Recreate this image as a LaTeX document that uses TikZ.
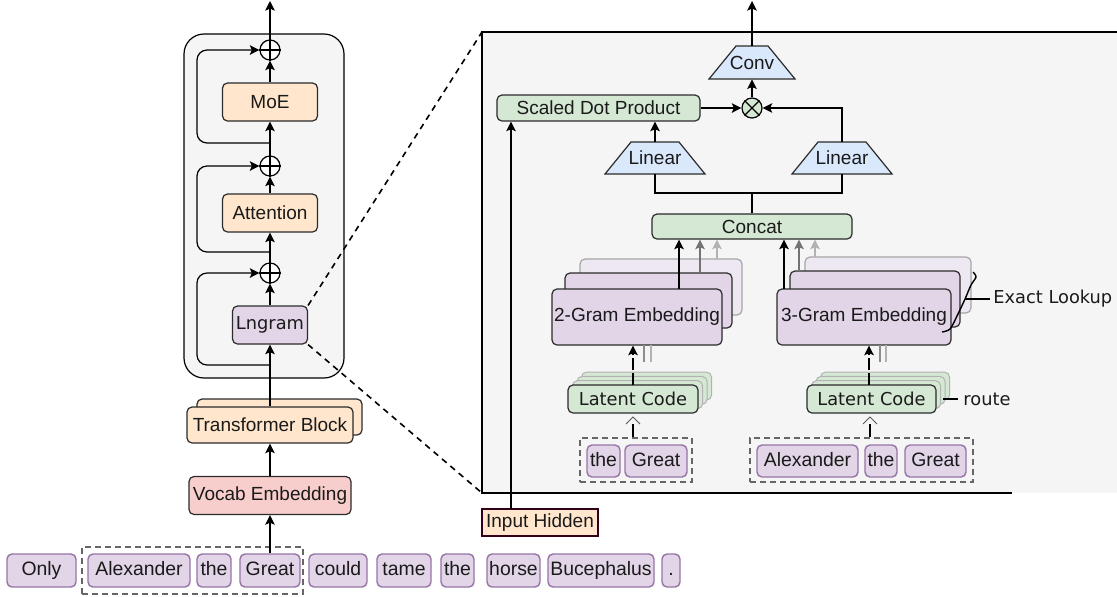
\documentclass[tikz,border=0pt]{standalone}
\usepackage{fontspec}
\setmainfont{Liberation Sans}
\newfontfamily\dv{DejaVu Sans}
\usetikzlibrary{arrows.meta,calc}
\definecolor{orf}{HTML}{FFE6CC}
\definecolor{puf}{HTML}{E1D5E7}
\definecolor{pud}{HTML}{9673A6}
\definecolor{grf}{HTML}{D5E8D4}
\definecolor{blf}{HTML}{DAE8FC}
\definecolor{rdf}{HTML}{F8CECC}
\definecolor{bgf}{HTML}{F5F5F5}
\definecolor{txt}{HTML}{1A1A1A}
\definecolor{edge}{HTML}{2B2B2B}
\definecolor{ihd}{HTML}{33001A}
\begin{document}
\begin{tikzpicture}[x=0.5pt,y=-0.5pt,
 every node/.style={text=txt, inner sep=0pt},
 fn/.style={font=\fontsize{9.5}{11}\selectfont},
 dvf/.style={font=\dv\fontsize{8.9}{11}\selectfont},
 box/.style={draw=edge, line width=0.6pt, rounded corners=2.5pt, fn},
 tok/.style={draw=pud, fill=puf, line width=0.7pt, rounded corners=2.5pt, font=\fontsize{9.7}{11}\selectfont, text height=7pt, text depth=2pt},
 arr/.style={-{Stealth[length=4.8pt,width=4.8pt,inset=1pt]}, line width=0.6pt, draw=black},
 ln/.style={line width=0.6pt, draw=black},
 sum/.style={circle, draw=black, line width=0.6pt, fill=white, minimum size=10pt},
 grp/.style={draw=black!60, dashed, line width=0.7pt, dash pattern=on 3pt off 2pt},
]
\useasboundingbox (0,0) rectangle (1117,596);

% ---------------- left column ----------------
\node[draw=black, fill=bgf, line width=0.6pt, rounded corners=10pt, minimum width=80pt, minimum height=172pt] (blk) at (264,206) {};

\node[sum] (c1) at (270,50) {};
\node[sum] (c2) at (270,166) {};
\node[sum] (c3) at (270,273) {};
\foreach \c in {c1,c2,c3}{\draw[ln] (\c.north)--(\c.south) (\c.west)--(\c.east);}

\node[box, fill=orf, minimum width=47.5pt, minimum height=19pt] (moe) at (270,102) {MoE};
\node[box, fill=orf, minimum width=47.5pt, minimum height=19pt] (att) at (270,213) {Attention};
\node[box, fill=puf, minimum width=37.5pt, minimum height=19pt, dvf] (lng) at (270,325) {Lngram};

\node[box, fill=orf, minimum width=82.5pt, minimum height=18pt] (tbb) at (279.5,417) {};
\node[box, fill=orf, minimum width=83pt, minimum height=18pt] (tb) at (270,425) {Transformer Block};
\node[box, fill=rdf, minimum width=81pt, minimum height=19pt] (voc) at (270,495.5) {Vocab Embedding};

\node[grp, minimum width=110.5pt, minimum height=23.5pt] (grp1) at (192.5,570.5) {};
\node[tok, minimum width=34.5pt, minimum height=16.5pt] (w1) at (41.5,570.5) {Only};
\node[tok, minimum width=51pt, minimum height=16.5pt] (w2) at (139,570.5) {Alexander};
\node[tok, minimum width=17pt, minimum height=16.5pt] (w3) at (214,570.5) {the};
\node[tok, minimum width=30pt, minimum height=16.5pt] (w4) at (270,570.5) {Great};
\node[tok, minimum width=29pt, minimum height=16.5pt] (w5) at (338,570.5) {could};
\node[tok, minimum width=27pt, minimum height=16.5pt] (w6) at (404,570.5) {tame};
\node[tok, minimum width=16.5pt, minimum height=16.5pt] (w7) at (457.5,570.5) {the};
\node[tok, minimum width=26.5pt, minimum height=16.5pt] (w8) at (513.5,570.5) {horse};
\node[tok, minimum width=53pt, minimum height=16.5pt] (w9) at (601,570.5) {Bucephalus};
\node[tok, minimum width=9pt, minimum height=16.5pt] (w10) at (671,570.5) {.};

\coordinate (out1) at (270,1);
\draw[arr] (c1.north) -- (out1);
\draw[arr] (moe.north) -- (c1.south);
\draw[arr] (c2.north) -- (moe.south);
\draw[arr] (att.north) -- (c2.south);
\draw[arr] (c3.north) -- (att.south);
\draw[arr] (lng.north) -- (c3.south);
\draw[arr] (tb.north) -- (lng.south);
\draw[arr] (voc.north) -- (tb.south);
\draw[arr] (w4.north) -- (voc.south);

\coordinate (s1) at (270,143);
\coordinate (s2) at (270,252);
\coordinate (s3) at (270,365);
\draw[arr, rounded corners=5pt] (s1) -- (197,143) -- (197,50) -- (c1.west);
\draw[arr, rounded corners=5pt] (s2) -- (197,252) -- (197,166) -- (c2.west);
\draw[arr, rounded corners=5pt] (s3) -- (197,365) -- (197,273) -- (c3.west);

% ---------------- right panel ----------------
\coordinate (rtl) at (482,32);
\coordinate (rbl) at (482,493);
\fill[bgf] (482,32) rectangle (1117,493);
\draw[line width=0.8pt] (1117,32) -- (rtl) -- (rbl) -- (1012,493);
\draw[dashed, line width=0.8pt, dash pattern=on 3pt off 2.5pt] (lng.north east) -- (rtl);
\draw[dashed, line width=0.8pt, dash pattern=on 3pt off 2.5pt] (lng.south east) -- (rbl);

% Conv
\draw[fill=blf, draw=edge, line width=0.6pt] (736,46) -- (768,46) -- (795,79) -- (709,79) -- cycle;
\node[fn, minimum height=16.5pt] (conv) at (752,62.5) {Conv};
\coordinate (out2) at (752,1);
\draw[arr] (conv.north) -- (out2);

% otimes
\node[sum, fill=grf] (ot) at (752,108) {};
\draw[ln] (ot.north west)--(ot.south east) (ot.north east)--(ot.south west);
\draw[arr] (ot.north) -- (conv.south);

\node[box, fill=grf, minimum width=101.5pt, minimum height=13pt] (sdp) at (598.5,108) {Scaled Dot Product};
\draw[arr] (sdp.east) -- (ot.west);

% Linear
\draw[fill=blf, draw=edge, line width=0.6pt] (631,142) -- (679,142) -- (705,174) -- (605,174) -- cycle;
\node[fn, minimum height=16pt] (lin1) at (655,158) {Linear};
\draw[fill=blf, draw=edge, line width=0.6pt] (818,142) -- (866,142) -- (892,174) -- (792,174) -- cycle;
\node[fn, minimum height=16pt] (lin2) at (842,158) {Linear};
\draw[arr] (lin1.north) -- (lin1.north |- sdp.south);
\draw[arr] (lin2.north) |- (ot.east);

% Concat
\node[box, fill=grf, minimum width=100pt, minimum height=12.5pt] (cc) at (752,226.5) {Concat};
\coordinate (j) at (752,193);
\draw[ln] (cc.north) -- (j);
\draw[ln] (lin1.south) |- (j);
\draw[ln] (lin2.south) |- (j);

% 2-gram stack
\node[draw=black!35, fill=puf!55!white, line width=0.6pt, rounded corners=2.5pt, minimum width=81pt, minimum height=28pt] (g2b) at (661,287) {};
\node[draw=edge, fill=puf, line width=0.6pt, rounded corners=2.5pt, minimum width=83.5pt, minimum height=27.5pt] (g2m) at (648.5,300.5) {};
\node[box, fill=puf, minimum width=85pt, minimum height=28pt] (g2f) at (637,317) {2-Gram Embedding};
% 3-gram stack
\node[draw=black!35, fill=puf!55!white, line width=0.6pt, rounded corners=2.5pt, minimum width=83pt, minimum height=28pt] (g3b) at (888,285) {};
\node[draw=edge, fill=puf, line width=0.6pt, rounded corners=2.5pt, minimum width=85pt, minimum height=28pt] (g3m) at (875,299) {};
\node[box, fill=puf, minimum width=87pt, minimum height=28pt] (g3f) at (864,317) {3-Gram Embedding};

\coordinate (a2a) at (679,289);
\coordinate (a2b) at (700,273);
\coordinate (a2c) at (717,259);
\coordinate (a3a) at (784,289);
\coordinate (a3b) at (799,271);
\coordinate (a3c) at (815,257);
\draw[arr] (a2a) -- (a2a |- cc.south);
\draw[arr, draw=black!55] (a2b) -- (a2b |- cc.south);
\draw[arr, draw=black!30] (a2c) -- (a2c |- cc.south);
\draw[arr] (a3a) -- (a3a |- cc.south);
\draw[arr, draw=black!55] (a3b) -- (a3b |- cc.south);
\draw[arr, draw=black!30] (a3c) -- (a3c |- cc.south);

% Exact lookup brace
\node[dvf, anchor=west] (el) at (993,299) {Exact Lookup};
\draw[line width=0.7pt] plot[smooth] coordinates {(942,332) (950,329) (957,316) (965,299) (971,285) (976,277) (973,272)};
\draw[ln] (965,299) -- ([xshift=-1.5pt]el.west);

% Latent code stacks
\foreach \dx/\dy in {13.5/-12.9, 9/-8.6, 4.5/-4.3}{
 \node[draw=black!30, fill=grf, line width=0.5pt, rounded corners=2.5pt, minimum width=65pt, minimum height=14pt] at (633+\dx,399+\dy) {};
 \node[draw=black!30, fill=grf, line width=0.5pt, rounded corners=2.5pt, minimum width=64.5pt, minimum height=14pt] at (871.5+\dx,399+\dy) {};
}
\node[box, fill=grf, minimum width=65pt, minimum height=14pt, dvf] (lc1) at (633,399) {Latent Code};
\node[box, fill=grf, minimum width=64.5pt, minimum height=14pt, dvf] (lc2) at (871.5,399) {Latent Code};

\node[dvf, anchor=west] (rt) at (963,399) {route};
\draw[ln] (943,399) -- ([xshift=-2.5pt]rt.west);

\coordinate (l1) at (633,385);
\coordinate (l2) at (869,385);
\draw[arr, dash pattern=on 6pt off 1.5pt] (l1) -- (l1 |- g2f.south);
\draw[arr, dash pattern=on 6pt off 1.5pt] (l2) -- (l2 |- g3f.south);
\draw[black!45, line width=0.6pt] (644,362) -- (644,345);
\draw[black!30, line width=0.6pt] (651,362) -- (651,345);
\draw[black!45, line width=0.6pt] (880,362) -- (880,345);
\draw[black!30, line width=0.6pt] (886,362) -- (886,345);

% token groups in right panel
\node[grp, minimum width=56pt, minimum height=22pt] (grp2) at (636,460) {};
\node[grp, minimum width=111.5pt, minimum height=22pt] (grp3) at (861.5,460) {};
\node[tok, minimum width=16.5pt, minimum height=16pt] (r1) at (603.5,461) {the};
\node[tok, minimum width=31pt, minimum height=16pt] (r2) at (656,461) {Great};
\node[tok, minimum width=50.5pt, minimum height=16pt] (r3) at (807.5,461) {Alexander};
\node[tok, minimum width=16pt, minimum height=16pt] (r4) at (881,461) {the};
\node[tok, minimum width=30.5pt, minimum height=16pt] (r5) at (935.5,461) {Great};

\coordinate (k1) at (633,424);
\coordinate (k2) at (870,424);
\draw[line width=1.3pt] (k1 |- grp2.north) -- (k1);
\draw[line width=1.3pt] (k2 |- grp3.north) -- (k2);
\draw[black!65, line width=0.5pt] (626,424) -- (633,417) -- (640,424);
\draw[black!65, line width=0.5pt] (863,424) -- (870,417) -- (877,424);

% Input hidden
\node[draw=ihd, fill=orf, line width=0.6pt, fn, minimum width=58pt, minimum height=13.5pt] (ih) at (540,522.5) {Input Hidden};
\coordinate (ihs) at (511,509);
\draw[arr] (ihs) -- (ihs |- sdp.south);
\end{tikzpicture}
\end{document}
